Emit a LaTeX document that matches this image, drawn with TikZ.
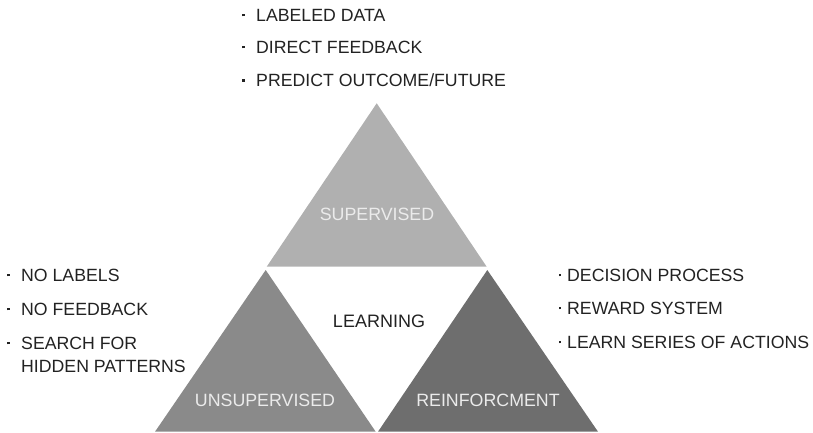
\documentclass[tikz,border=0pt]{standalone}
\usepackage{fontspec}
\setmainfont{Liberation Sans}
\usepackage{xcolor}
\usetikzlibrary{positioning}

\definecolor{supgray}{HTML}{B0B0B0}
\definecolor{unsgray}{HTML}{8A8A8A}
\definecolor{reigray}{HTML}{6E6E6E}
\definecolor{txtgray}{HTML}{222222}

\newcommand{\dotmark}{\rule[4.6pt]{2.6pt}{2.6pt}}

\begin{document}
\begin{tikzpicture}[
  x = 1pt, y = -1pt,
  inner label/.style = {text=white!92!black, font=\fontsize{17.8}{20}\selectfont},
  point/.style = {anchor=west, inner sep=0pt, text=txtgray,
      font=\fontsize{17.7}{20}\selectfont, align=left}
]
  \useasboundingbox (0,0) rectangle (813,433);
  % drei Dreiecke
  \coordinate (sA) at (376.7,103.3);
  \coordinate (sB) at (266.7,266.7);
  \coordinate (sC) at (486.7,266.7);
  \coordinate (uA) at (265.7,270);
  \coordinate (uB) at (155,431.7);
  \coordinate (uC) at (375.7,431.7);
  \coordinate (rA) at (487.3,270);
  \coordinate (rB) at (378,431.7);
  \coordinate (rC) at (598,431.7);
  \fill[supgray] (sA) -- (sB) -- (sC) -- cycle;
  \fill[unsgray] (uA) -- (uB) -- (uC) -- cycle;
  \fill[reigray] (rA) -- (rB) -- (rC) -- cycle;

  % Beschriftungen
  \node[inner label] (sup) at (377,214) {SUPERVISED};
  \node[inner label] (uns) at (265,400) {UNSUPERVISED};
  \node[inner label] (rei) at (488,400) {REINFORCMENT};
  \node[text=txtgray, font=\fontsize{18}{20}\selectfont] (lrn) at (379,321) {LEARNING};

  % Punkte oben
  \node[point] (sup1) at (242,15) {\dotmark\hspace{11.4pt}LABELED DATA};
  \node[point] (sup2) at (242,47) {\dotmark\hspace{11.4pt}DIRECT FEEDBACK};
  \node[point] (sup3) at (242,80) {\dotmark\hspace{11.4pt}PREDICT OUTCOME/FUTURE};
  % Punkte links
  \node[point] (uns1) at (7,275) {\dotmark\hspace{11.4pt}NO LABELS};
  \node[point] (uns2) at (7,309) {\dotmark\hspace{11.4pt}NO FEEDBACK};
  \node[point] (uns3) at (7,343) {\dotmark\hspace{11.4pt}SEARCH FOR};
  \node[point] (uns4) at (21,366) {HIDDEN PATTERNS};
  % Punkte rechts
  \node[point] (rei1) at (558.5,275) {\dotmark\hspace{5.9pt}DECISION PROCESS};
  \node[point] (rei2) at (558.5,308) {\dotmark\hspace{5.9pt}REWARD SYSTEM};
  \node[point] (rei3) at (558.5,342) {\dotmark\hspace{5.9pt}LEARN SERIES OF ACTIONS};
\end{tikzpicture}
\end{document}
